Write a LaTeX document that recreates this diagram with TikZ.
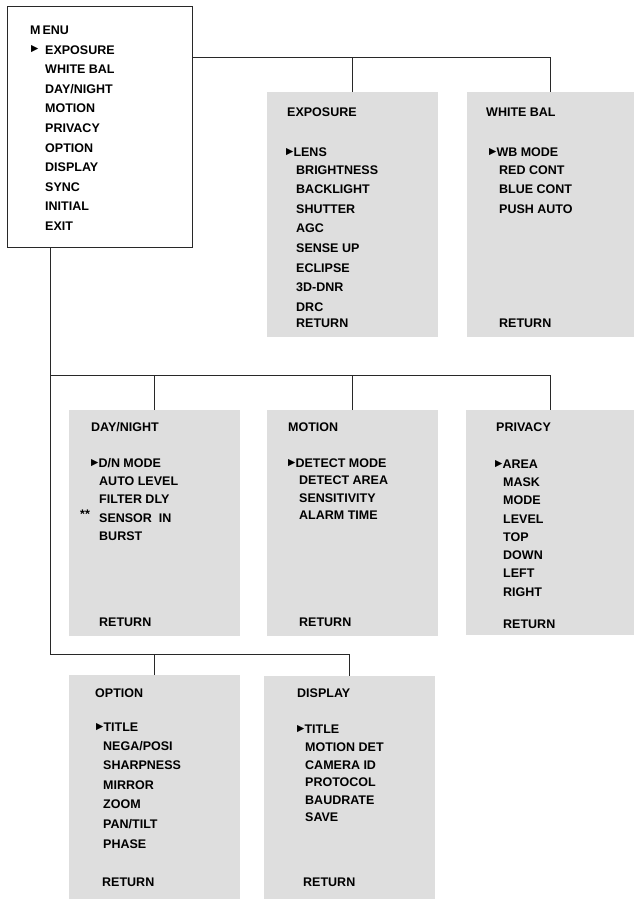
\documentclass[tikz,border=0pt]{standalone}
\usepackage{fontspec}
\setmainfont{Liberation Sans}
\newfontfamily\simbolo{DejaVu Sans}
\usepackage{xcolor}
\definecolor{grisMenu}{RGB}{222,222,222}
\definecolor{lineaMenu}{RGB}{40,40,40}
\newcommand{\marca}{\raisebox{2pt}{\simbolo\fontsize{9.5}{9.5}\selectfont ▶}}
\usetikzlibrary{calc}

\begin{document}
\begin{tikzpicture}[
  x=1pt, y=-1pt,
  panel/.style={rectangle, fill=grisMenu, anchor=north west, inner sep=0pt},
  item/.style={anchor=base west, align=left, inner sep=0pt,
               font=\fontsize{12.5}{#1}\selectfont\bfseries},
  item/.default=19.6,
  line/.style={draw=lineaMenu, line width=0.8pt}
]
\useasboundingbox (0,0) rectangle (634,899);

% Menu principal (listas: base en la ultima linea)
\node[rectangle, line, anchor=north west, inner sep=0pt,
      minimum width=185pt, minimum height=241pt] (menu) at (7,6) {};
\node[item] (menuT) at (30,35) {M\kern2pt ENU};
\node[item] (menuM) at (31,54) {\marca};
\node[item=19.6] (menuL) at (45,230.4) {EXPOSURE\\WHITE BAL\\DAY/NIGHT\\MOTION\\PRIVACY\\OPTION\\DISPLAY\\SYNC\\INITIAL\\EXIT};

% EXPOSURE
\node[panel, minimum width=171pt, minimum height=245pt] (expo) at (267,92) {};
\node[item] (expoT) at (287,116.5) {EXPOSURE};
\node[item] (expoM) at (286,156.5) {\marca LENS};
\node[item=19.6] (expoL) at (296,311.2) {BRIGHTNESS\\BACKLIGHT\\SHUTTER\\AGC\\SENSE UP\\ECLIPSE\\3D-DNR\\DRC};
\node[item] (expoR) at (296,327.5) {RETURN};

% WHITE BAL
\node[panel, minimum width=167pt, minimum height=245pt] (wbal) at (467,92) {};
\node[item] (wbalT) at (486,116.5) {WHITE BAL};
\node[item] (wbalM) at (489,156.5) {\marca WB MODE};
\node[item=19.6] (wbalL) at (499,213.2) {RED CONT\\BLUE CONT\\PUSH AUTO};
\node[item] (wbalR) at (499,327.5) {RETURN};

% DAY/NIGHT
\node[panel, minimum width=171pt, minimum height=226pt] (dn) at (69,410) {};
\node[item] (dnT) at (91,431.5) {DAY/NIGHT};
\node[item] (dnM) at (91,467) {\marca D/N MODE};
\node[item=18.3] (dnL) at (99,540.4) {AUTO LEVEL\\FILTER DLY\\SENSOR\ \ IN\\BURST};
\node[item] (dnS) at (80,518) {**};
\node[item] (dnR) at (99,626.5) {RETURN};

% MOTION
\node[panel, minimum width=171pt, minimum height=226pt] (mot) at (267,410) {};
\node[item] (motT) at (288,431.5) {MOTION};
\node[item] (motM) at (288,467) {\marca DETECT MODE};
\node[item=17.5] (motL) at (299,519.5) {DETECT AREA\\SENSITIVITY\\ALARM TIME};
\node[item] (motR) at (299,626.5) {RETURN};

% PRIVACY
\node[panel, minimum width=168pt, minimum height=225pt] (priv) at (466,410) {};
\node[item] (privT) at (496,431.5) {PRIVACY};
\node[item] (privM) at (495,468) {\marca AREA};
\node[item=18.25] (privL) at (503,596) {MASK\\MODE\\LEVEL\\TOP\\DOWN\\LEFT\\RIGHT};
\node[item] (privR) at (503,628) {RETURN};

% OPTION
\node[panel, minimum width=171pt, minimum height=224pt] (opt) at (69,675) {};
\node[item] (optT) at (95,697) {OPTION};
\node[item] (optM) at (96,731.5) {\marca TITLE};
\node[item=19.6] (optL) at (103,848) {NEGA/POSI\\SHARPNESS\\MIRROR\\ZOOM\\PAN/TILT\\PHASE};
\node[item] (optR) at (102,886.5) {RETURN};

% DISPLAY
\node[panel, minimum width=171pt, minimum height=223pt] (disp) at (264,676) {};
\node[item] (dispT) at (297,697) {DISPLAY};
\node[item] (dispM) at (297,733) {\marca TITLE};
\node[item=17.5] (dispL) at (305,821.5) {MOTION DET\\CAMERA ID\\PROTOCOL\\BAUDRATE\\SAVE};
\node[item] (dispR) at (303,886.5) {RETURN};

% Conexiones
\coordinate (barra1) at ($(menu.north east)+(0,51)$);
\coordinate (tronco) at ($(menu.south west)+(43,0)$);
\coordinate (nudo2) at ($(tronco)+(0,128)$);
\coordinate (nudo3) at ($(tronco)+(0,407)$);

\draw[line] (barra1) -| (wbal.north);
\draw[line] (expo.north) -- (expo.north |- barra1);

\draw[line] (tronco) -- (nudo3);
\draw[line] (nudo2) -| (priv.north);
\draw[line] (dn.north) -- (dn.north |- nudo2);
\draw[line] (mot.north) -- (mot.north |- nudo2);

\draw[line] (nudo3) -| (disp.north);
\draw[line] (opt.north) -- (opt.north |- nudo3);

\end{tikzpicture}
\end{document}
